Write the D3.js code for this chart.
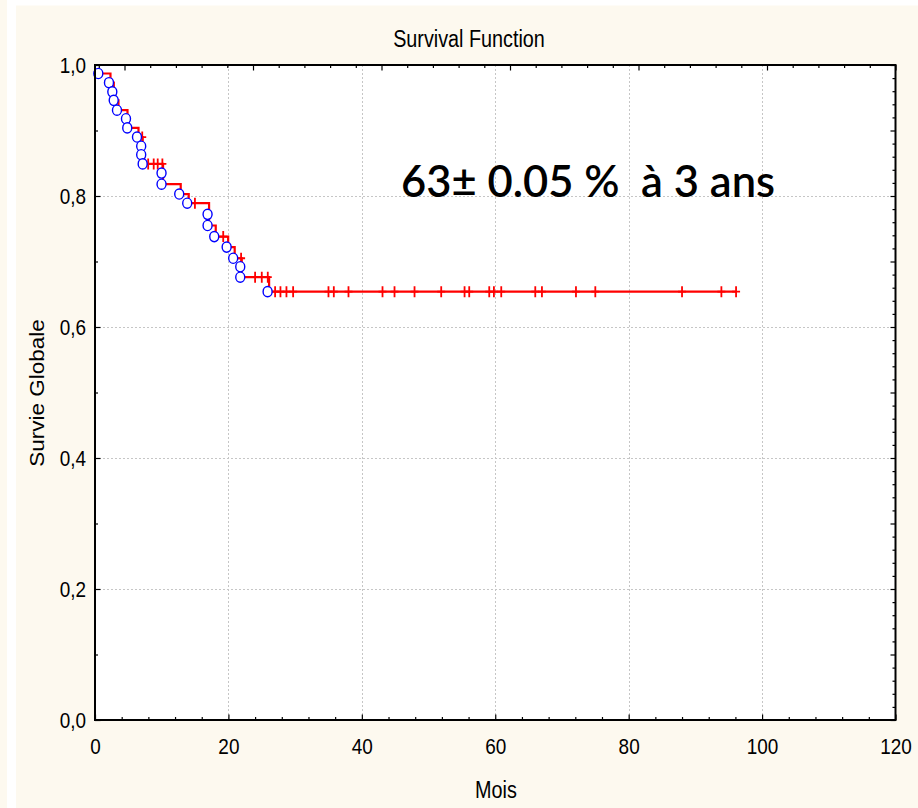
<!DOCTYPE html>
<html>
<head>
<meta charset="utf-8">
<script src="https://cdn.jsdelivr.net/npm/d3@7"></script>
<style>
  html, body { margin: 0; padding: 0; background: #fdf9ef; }
  svg { display: block; }
  text { font-family: "Liberation Sans", Arial, sans-serif; fill: #000; }
  text.note { font-family: Lato, "Open Sans", sans-serif; font-weight: 600; white-space: pre; }
</style>
</head>
<body>
<svg id="chart" width="918" height="808"></svg>
<script>
// Kaplan–Meier estimate: month of each death and the survival just after it
const eventMonths = [0.72, 2.32, 2.82, 3.03, 3.52, 4.87, 5.06, 6.52, 7.15, 7.15, 7.37,
  10.2, 10.2, 12.85, 14.05, 17.1, 17.1, 18.1, 19.96, 20.94, 22.0, 22.0, 26.1];
const eventSurvival = [0.987, 0.973, 0.959, 0.946, 0.931, 0.918, 0.904, 0.890, 0.876, 0.863, 0.849,
  0.835, 0.818, 0.803, 0.789, 0.772, 0.755, 0.738, 0.722, 0.705, 0.692, 0.676, 0.654];
// censored follow-up (months)
const censoredMonths = [7.08, 7.97, 8.8, 9.4, 10.1, 14.98, 19.22, 21.9, 24.0, 25.0, 25.9,
  27, 27.8, 28.7, 29.7, 35, 35.8, 38, 43.1, 44.9, 47.9, 51.9, 55.4, 56.1, 59.1, 59.8, 60.9,
  66, 67, 72.1, 75, 88, 93.9, 96.1];

const xTicks = [0, 20, 40, 60, 80, 100, 120];
const yTicks = [0, 0.2, 0.4, 0.6, 0.8, 1.0];
const yTickLabels = ["0,0", "0,2", "0,4", "0,6", "0,8", "1,0"];
const chartTitle = "Survival Function";
const xTitle = "Mois";
const yTitle = "Survie Globale";
const note = "63\u00B1 0.05 %  \u00E0 3 ans";

// ---- layout ----
const W = 918, H = 808;
const plot = { left: 95, right: 895.5, top: 65, bottom: 720 };
const squeezeX = 0.86;           // narrow face used by the axis texts
const panelColor = "#fdf9ef";

const svg = d3.select("#chart");

// background panel with its light border strip
svg.append("rect").attr("width", W).attr("height", H).attr("fill", panelColor);
svg.append("rect").attr("x", 7).attr("y", 0).attr("width", W - 7).attr("height", 5.5).attr("fill", "#ffffff");
svg.append("rect").attr("x", 7).attr("y", 0).attr("width", 9).attr("height", H).attr("fill", "#ffffff");

// plotting area
svg.append("rect")
  .attr("x", plot.left).attr("y", plot.top)
  .attr("width", plot.right - plot.left).attr("height", plot.bottom - plot.top)
  .attr("fill", "#ffffff");

const x = d3.scaleLinear().domain([0, 120]).range([plot.left, plot.right]);
const y = d3.scaleLinear().domain([0, 1]).range([plot.bottom, plot.top]);

// secondary (unlabelled) scale of the top frame edge
const topUnits = (plot.right - plot.left) / 25.7;
const xTop = d3.scaleLinear().domain([topUnits, 0]).range([plot.left, plot.right]);

// ---- grid ----
const grid = svg.append("g").attr("stroke", "#c6c6c6").attr("stroke-width", 1)
  .attr("stroke-dasharray", "2,2").attr("fill", "none");
grid.selectAll("line.v").data(xTicks.filter(d => d > 0 && d < 120)).join("line")
  .attr("class", "v")
  .attr("x1", d => Math.round(x(d)) + 0.5).attr("x2", d => Math.round(x(d)) + 0.5)
  .attr("y1", plot.top).attr("y2", plot.bottom);
grid.selectAll("line.h").data(yTicks.filter(d => d > 0 && d < 1)).join("line")
  .attr("class", "h")
  .attr("y1", d => Math.round(y(d)) + 0.5).attr("y2", d => Math.round(y(d)) + 0.5)
  .attr("x1", plot.left).attr("x2", plot.right);

// ---- survival step curve ----
const stepPoints = eventMonths.map((t, i) => [t, eventSurvival[i]]);
const lastFollowUp = d3.max(censoredMonths);
stepPoints.push([lastFollowUp, eventSurvival[eventSurvival.length - 1]]);

const line = d3.line().x(d => x(d[0])).y(d => y(d[1])).curve(d3.curveStepAfter);
svg.append("path").datum(stepPoints)
  .attr("d", line)
  .attr("fill", "none").attr("stroke", "#ff0000").attr("stroke-width", 2.2);

// survival level in force at a given month
function levelAt(t) {
  const i = d3.bisectRight(eventMonths, t) - 1;
  return i < 0 ? 1 : eventSurvival[i];
}

// censor marks
svg.append("g").selectAll("path").data(censoredMonths).join("path")
  .attr("transform", d => `translate(${x(d)},${y(levelAt(d))})`)
  .attr("d", "M-4,0H4M0,-5.5V5.5")
  .attr("stroke", "#ff0000").attr("stroke-width", 1.8).attr("fill", "none");

// death markers
const markerShift = -1.5;
svg.append("g").selectAll("ellipse").data(stepPoints.slice(0, eventMonths.length)).join("ellipse")
  .attr("cx", d => x(d[0]) + markerShift)
  .attr("cy", d => y(d[1]))
  .attr("rx", 4.5).attr("ry", 5.1)
  .attr("fill", "#ffffff").attr("stroke", "#0000ff").attr("stroke-width", 1.4);

// ---- frame ----
svg.append("rect")
  .attr("x", plot.left).attr("y", plot.top)
  .attr("width", plot.right - plot.left).attr("height", plot.bottom - plot.top)
  .attr("fill", "none").attr("stroke", "#000").attr("stroke-width", 2);

// ---- axes (ticks point inward) ----
function styleAxis(g) {
  g.select(".domain").remove();
  g.selectAll(".tick line").attr("stroke", "#000").attr("stroke-width", 1.2);
}
const fmtY = d => yTickLabels[yTicks.findIndex(v => Math.abs(v - d) < 1e-9)];

// bottom
svg.append("g").attr("transform", `translate(0,${plot.bottom})`)
  .call(d3.axisBottom(x).tickValues(d3.range(0, 121, 4).filter(v => v % 20 !== 0)).tickSize(-3).tickFormat(""))
  .call(styleAxis);
const xAxisG = svg.append("g").attr("transform", `translate(0,${plot.bottom})`)
  .call(d3.axisBottom(x).tickValues(xTicks).tickSize(-5.5).tickPadding(18).tickFormat(d3.format("d")))
  .call(styleAxis);

// left
svg.append("g").attr("transform", `translate(${plot.left},0)`)
  .call(d3.axisLeft(y).tickValues([0.1, 0.3, 0.5, 0.7, 0.9]).tickSize(-3).tickFormat(""))
  .call(styleAxis);
const yAxisG = svg.append("g").attr("transform", `translate(${plot.left},0)`)
  .call(d3.axisLeft(y).tickValues(yTicks).tickSize(-5.5).tickPadding(9).tickFormat(fmtY))
  .call(styleAxis);

// top
const topVals = d3.range(0, Math.floor(topUnits) + 1);
svg.append("g").attr("transform", `translate(0,${plot.top})`)
  .call(d3.axisTop(xTop).tickValues(topVals.filter(v => v % 5 !== 0)).tickSize(-3).tickFormat(""))
  .call(styleAxis);
svg.append("g").attr("transform", `translate(0,${plot.top})`)
  .call(d3.axisTop(xTop).tickValues(topVals.filter(v => v % 5 === 0)).tickSize(-5.5).tickFormat(""))
  .call(styleAxis);

// right
const rightVals = d3.range(0, 51).map(k => k / 50);
svg.append("g").attr("transform", `translate(${plot.right},0)`)
  .call(d3.axisRight(y).tickValues(rightVals.filter((v, k) => k % 5 !== 0)).tickSize(-3).tickFormat(""))
  .call(styleAxis);
svg.append("g").attr("transform", `translate(${plot.right},0)`)
  .call(d3.axisRight(y).tickValues(rightVals.filter((v, k) => k % 5 === 0)).tickSize(-5).tickFormat(""))
  .call(styleAxis);

// tick label typography
[xAxisG, yAxisG].forEach(g => g.selectAll(".tick text")
  .attr("font-size", 22).attr("fill", "#000"));

// ---- titles ----
const titleText = svg.append("text")
  .attr("x", 469).attr("y", 46.5).attr("text-anchor", "middle")
  .attr("font-size", 23).text(chartTitle);

const xTitleText = svg.append("text")
  .attr("x", 496).attr("y", 798).attr("text-anchor", "middle")
  .attr("font-size", 23).text(xTitle);

svg.append("text")
  .attr("transform", "translate(44,393) scale(0.9,1) rotate(-90)")
  .attr("text-anchor", "middle")
  .attr("font-size", 22.5).text(yTitle);

// narrow the horizontal texts to the face's proportions
function squeeze(sel, f) {
  sel.each(function () {
    const w = this.getComputedTextLength();
    this.setAttribute("textLength", (w * f).toFixed(1));
    this.setAttribute("lengthAdjust", "spacingAndGlyphs");
  });
}
squeeze(xAxisG.selectAll(".tick text"), squeezeX);
squeeze(yAxisG.selectAll(".tick text"), squeezeX);
squeeze(titleText, squeezeX);
squeeze(xTitleText, squeezeX);

// ---- annotation ----
svg.append("text")
  .attr("class", "note")
  .attr("x", 401).attr("y", 197)
  .attr("font-size", 44)
  .attr("textLength", 374).attr("lengthAdjust", "spacingAndGlyphs")
  .text(note);
</script>
</body>
</html>
